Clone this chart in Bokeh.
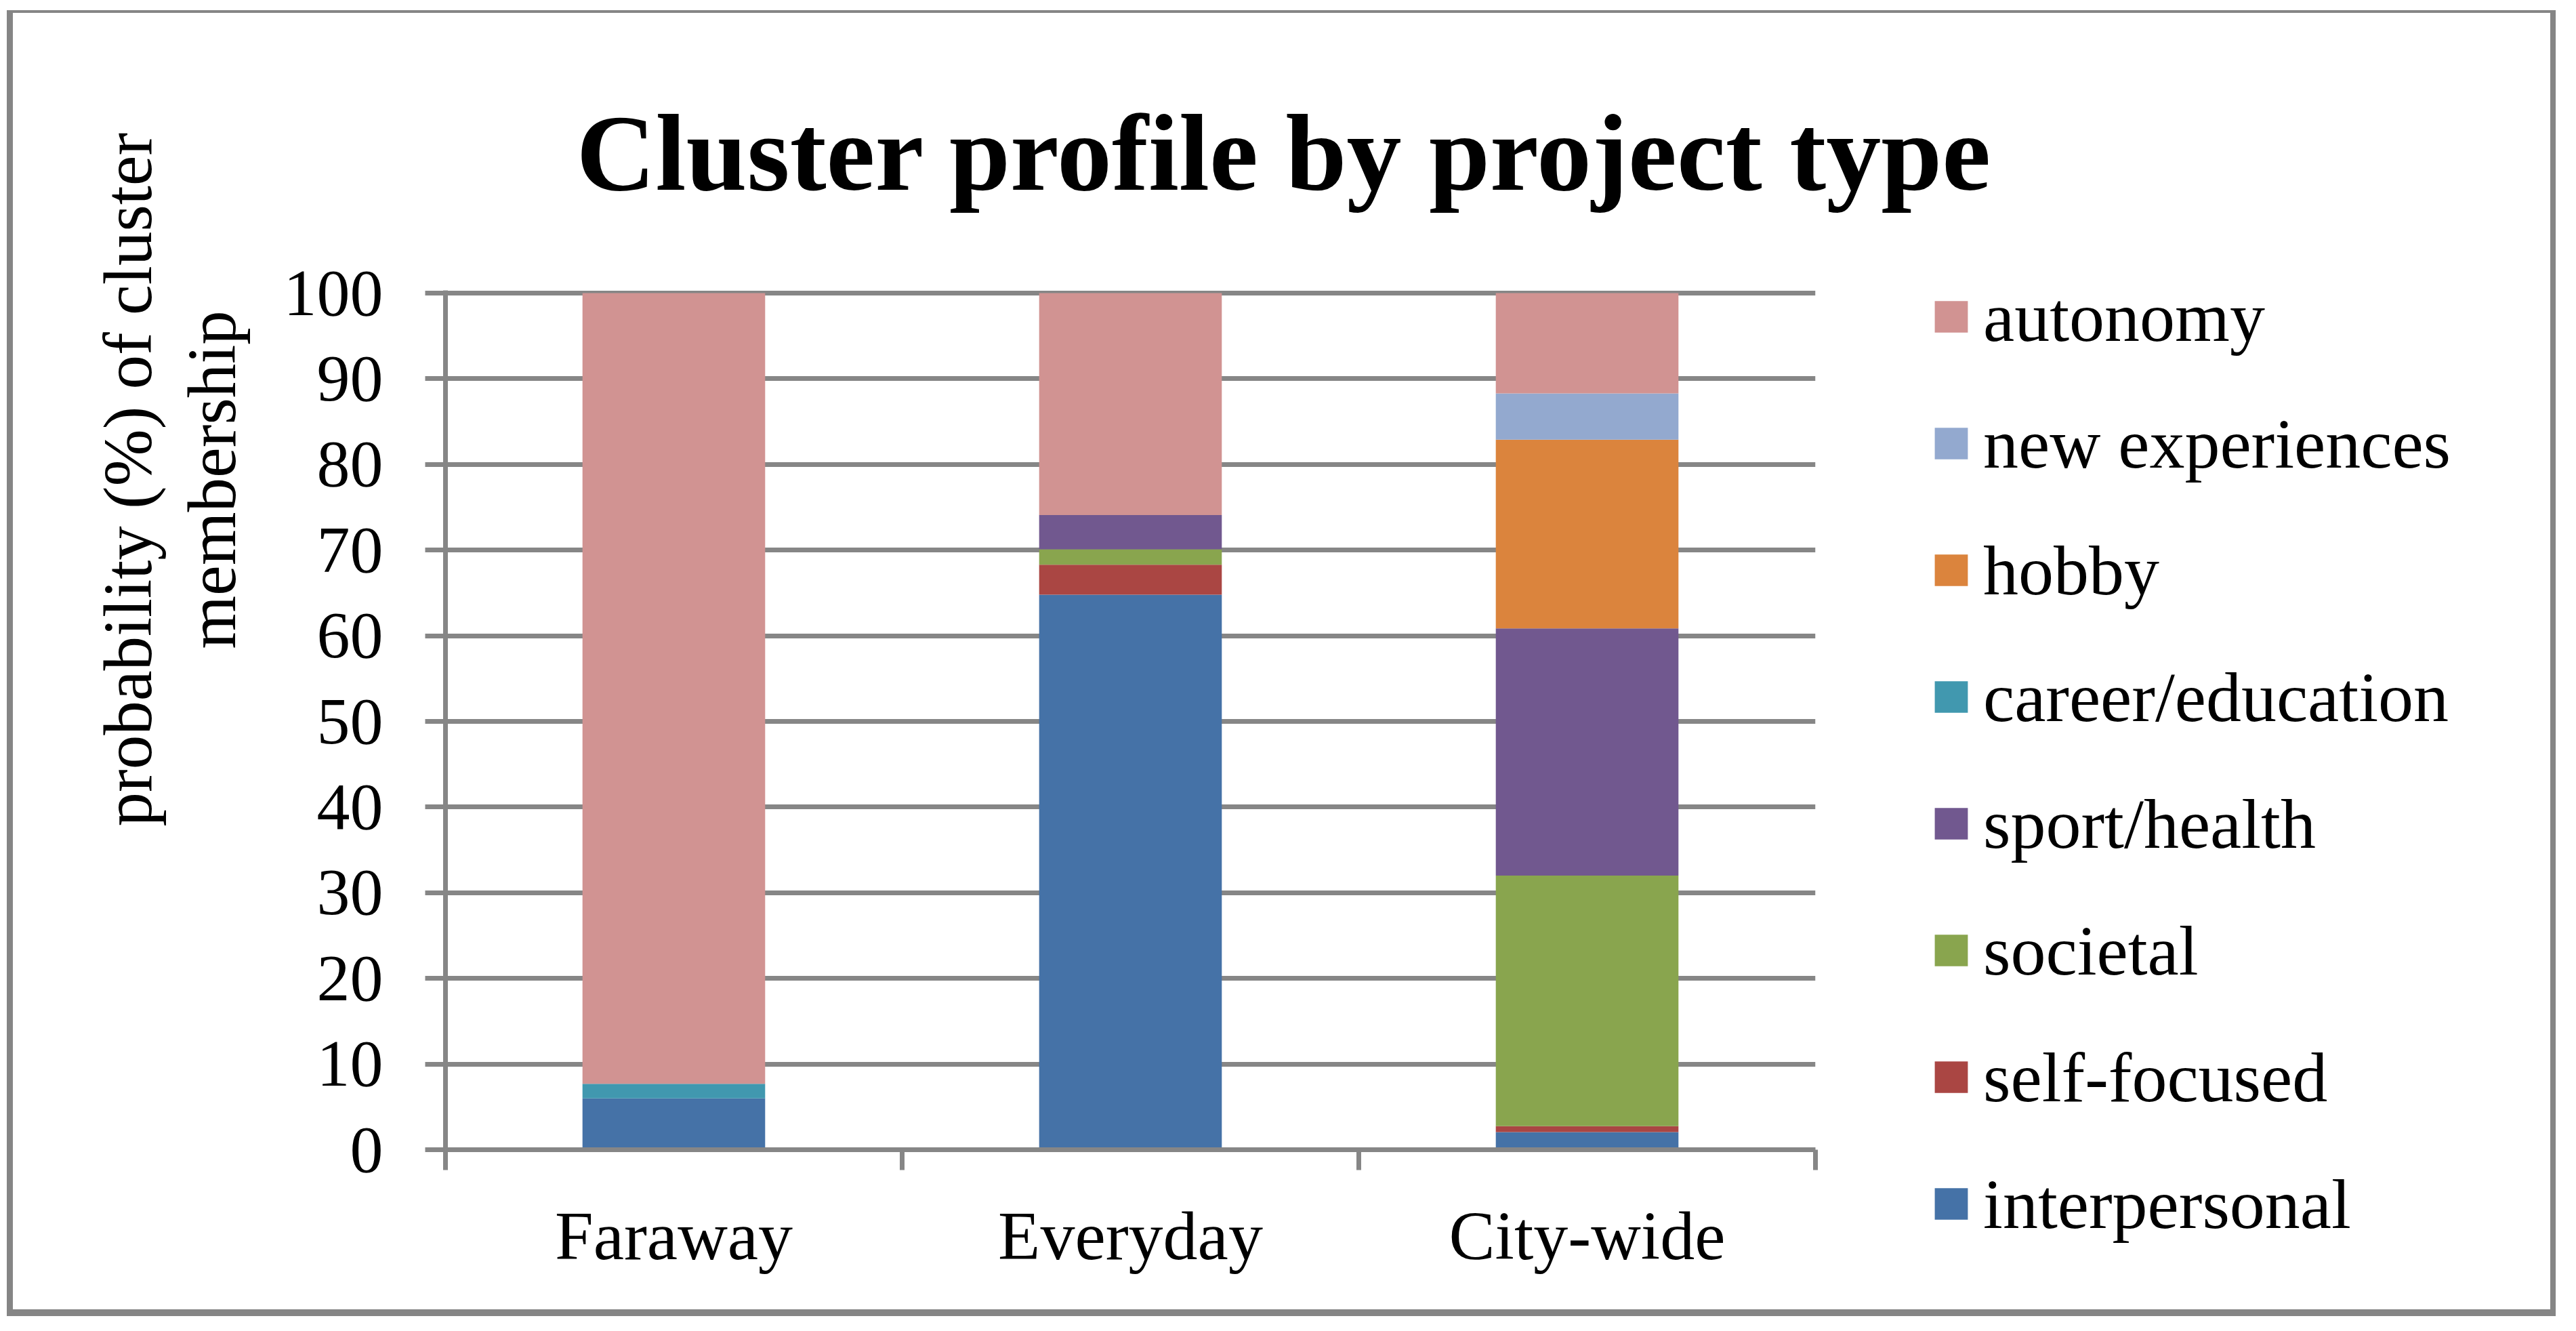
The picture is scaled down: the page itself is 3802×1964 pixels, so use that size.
from bokeh.plotting import figure
from bokeh.models import (ColumnDataSource, FactorRange, Range1d, LinearAxis, CategoricalAxis,
                          FixedTicker, Title, Legend, LegendItem)
from bokeh.embed import file_html
from bokeh.resources import INLINE

# ---------------- data ----------------
categories = ["Faraway", "Everyday", "City-wide"]
series = ["interpersonal", "self-focused", "societal", "sport/health",
          "career/education", "hobby", "new experiences", "autonomy"]
interpersonal = [6.0, 64.8, 2.05]
self_focused = [0.0, 3.5, 0.7]
societal = [0.0, 1.8, 29.25]
sport_health = [0.0, 4.0, 28.85]
career_education = [1.7, 0.0, 0.0]
hobby = [0.0, 0.0, 22.05]
new_experiences = [0.0, 0.0, 5.4]
autonomy = [92.3, 25.9, 11.7]
colors = ["#4572A7", "#AA4643", "#89A54E", "#71588F",
          "#4198AF", "#DB843D", "#93A9CF", "#D19392"]
y_ticks = list(range(0, 101, 10))
title_text = "Cluster profile by project type"
y_label_lines = ["probability (%) of cluster", "membership"]

values = [interpersonal, self_focused, societal, sport_health,
          career_education, hobby, new_experiences, autonomy]

# ---------------- layout constants (pixels) ----------------
W, H = 3745, 1913                        # chart box inside the grey frame
FL, FT = 638, 405                        # frame offset inside the chart box
FW, FH = 2022, 1268                      # plot frame size
YPX = 12.64                              # pixels per y unit
Y_END = FH / YPX                         # a hair above 100 so the top gridline shows
GRAY = "#868686"
FONT = "Liberation Serif"

data = {"cat": categories}
for name, vals in zip(series, values):
    data[name] = vals
source = ColumnDataSource(data)

p = figure(frame_width=FW, frame_height=FH,
           x_range=FactorRange(factors=categories, range_padding=0),
           y_range=Range1d(0, Y_END),
           output_backend="svg", toolbar_location=None,
           x_axis_location=None, y_axis_location="left",
           min_border_left=FL, min_border_right=W - FL - FW,
           min_border_top=FT, min_border_bottom=H - FT - FH)
p.outline_line_color = None
p.background_fill_color = "white"
p.border_fill_color = "white"

# outer chart border (drawn around the figure element)
p.styles = {
    "margin-left": "19px", "margin-top": "19px",
    "max-width": f"{W}px", "max-height": f"{H}px", "overflow": "hidden",
    "box-shadow": ", ".join(f"{x}px {y}px 0 0 #858585" for x, y in
                            [(-9, 0), (8, 0), (0, -4), (0, 10),
                             (-9, -4), (8, -4), (-9, 10), (8, 10)]),
}

renderers = p.vbar_stack(series, x="cat", width=0.4, color=colors, source=source,
                         line_color=None)

# y axis
yax = p.yaxis[0]
yax.ticker = FixedTicker(ticks=y_ticks)
yax.axis_line_color = GRAY
yax.axis_line_width = 7
yax.major_tick_in = 0
yax.major_tick_out = 30
yax.major_tick_line_color = GRAY
yax.major_tick_line_width = 7
yax.minor_tick_line_color = None
yax.major_label_text_font = FONT
yax.major_label_text_font_size = "98px"
yax.major_label_text_color = "black"
yax.major_label_standoff = 62
# blank axis label used only as spacing between tick labels and the axis title
yax.axis_label = " "
yax.axis_label_text_font_size = "1px"
yax.axis_label_standoff = 33

p.ygrid.ticker = FixedTicker(ticks=y_ticks)
p.ygrid.grid_line_color = GRAY
p.ygrid.grid_line_width = 7
p.xgrid.visible = False

# x axis: ticks at category boundaries (synthetic positions 0..3) + category labels
bounds = list(range(len(categories) + 1))
tick_axis = LinearAxis(ticker=FixedTicker(ticks=bounds),
                       major_label_overrides={i: "" for i in bounds},
                       major_label_text_font_size="1px",
                       major_label_standoff=0,
                       major_tick_in=0, major_tick_out=30,
                       major_tick_line_color=GRAY, major_tick_line_width=7,
                       minor_tick_line_color=None,
                       axis_line_color=GRAY, axis_line_width=7)
p.add_layout(tick_axis, "below")

cat_axis = CategoricalAxis(axis_line_color=None, major_tick_line_color=None,
                           minor_tick_line_color=None,
                           major_label_text_font=FONT,
                           major_label_text_font_size="102px",
                           major_label_text_color="black",
                           major_label_standoff=34)
p.add_layout(cat_axis, "below")

# chart title
p.title.text = title_text
p.title.align = "left"
p.title.offset = 193
p.title.standoff = 228
p.title.vertical_align = "bottom"
p.title.text_font = FONT
p.title.text_font_style = "bold"
p.title.text_font_size = "162px"
p.title.text_color = "black"

# y axis title, two lines (nearest the axis first)
for line, off, stand in [(y_label_lines[1], 739, 20), (y_label_lines[0], 477, 0)]:
    p.add_layout(Title(text=line, align="left", offset=off, standoff=stand,
                       vertical_align="bottom", text_font=FONT,
                       text_font_style="normal", text_font_size="101px",
                       text_color="black"), "left")

# legend (top: autonomy ... bottom: interpersonal)
items = [LegendItem(label=name, renderers=[r])
         for name, r in zip(series[::-1], renderers[::-1])]
legend = Legend(items=items, location=(170, -155), orientation="vertical",
                glyph_width=61, glyph_height=58, label_height=150,
                label_standoff=17, spacing=37, padding=0, margin=0,
                border_line_color=None, background_fill_alpha=0,
                label_text_font=FONT, label_text_font_size="104px",
                label_text_color="black")
p.add_layout(legend, "right")

open("out.html", "w").write(file_html(p, INLINE))
